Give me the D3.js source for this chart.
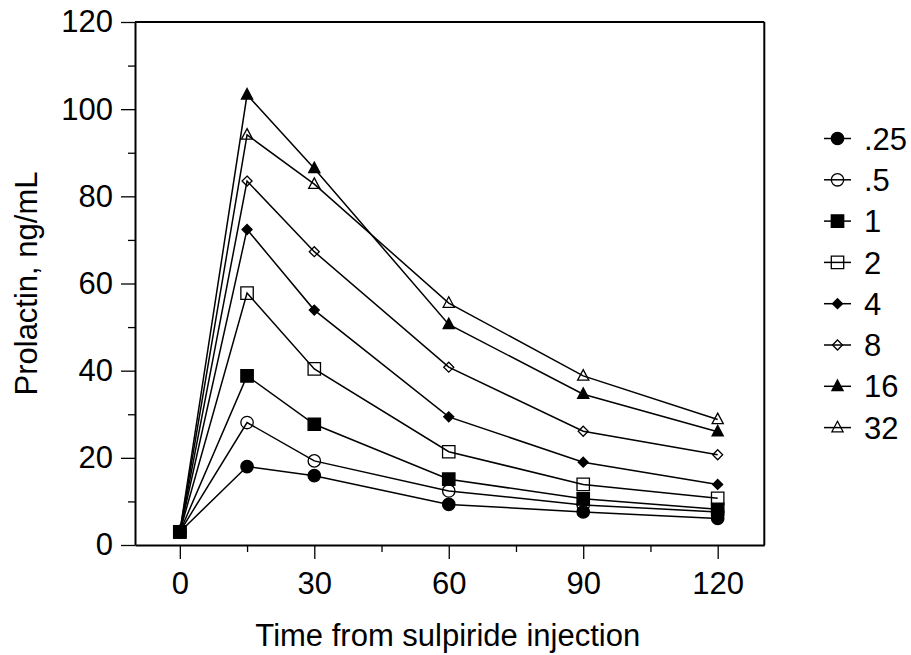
<!DOCTYPE html>
<html>
<head>
<meta charset="utf-8">
<script src="https://cdn.jsdelivr.net/npm/d3@7"></script>
<style>
  html, body { margin: 0; padding: 0; background: #fff; }
  svg { display: block; }
  text { font-family: Arial, "Liberation Sans", sans-serif; fill: #000; }
</style>
</head>
<body>
<svg id="chart" width="911" height="655"></svg>
<script>
// ---- data ----
const times = [0, 15, 30, 60, 90, 120];
const doses = [".25", ".5", "1", "2", "4", "8", "16", "32"];
const s025 = [3, 18.0, 15.9, 9.3, 7.6, 6.1];
const s05  = [3, 28.1, 19.3, 12.4, 9.2, 7.6];
const s1   = [3, 38.8, 27.7, 15.1, 10.6, 8.2];
const s2   = [3, 57.8, 40.4, 21.4, 13.9, 10.7];
const s4   = [3, 72.4, 53.9, 29.4, 19.0, 13.9];
const s8   = [3, 83.5, 67.3, 40.8, 26.1, 20.7];
const s16  = [3, 103.3, 86.4, 50.6, 34.6, 26.0];
const s32  = [3, 94.1, 82.8, 55.5, 38.8, 28.8];
const seriesValues = [s025, s05, s1, s2, s4, s8, s16, s32];
const markerTypes = ["circle", "circle", "square", "square", "diamond", "diamond", "triangle", "triangle"];
const markerFilled = [true, false, true, false, true, false, true, false];
const xMajorTicks = [0, 30, 60, 90, 120];
const xMinorTicks = [15, 45, 75, 105];
const yMajorTicks = [0, 20, 40, 60, 80, 100, 120];
const yMinorTicks = [10, 30, 50, 70, 90, 110];
const xTitle = "Time from sulpiride injection";
const yTitle = "Prolactin, ng/mL";

// ---- layout ----
const svg = d3.select("#chart");
const pL = 135, pR = 764.3, pT = 22, pB = 545;
const x = d3.scaleLinear().domain([-10, 130.4]).range([pL, pR]);
const y = d3.scaleLinear().domain([0, 120]).range([pB, pT]);
const FONT = 31;
const FAM = "Arial, 'Liberation Sans', sans-serif";

function markerPath(type) {
  const p = d3.path();
  if (type === "circle") {
    p.arc(0, 0, 6.2, 0, 2 * Math.PI);
  } else if (type === "square") {
    const h = 6.2;
    p.rect(-h, -h, 2 * h, 2 * h);
  } else if (type === "diamond") {
    const h = 5;
    p.moveTo(0, -h); p.lineTo(h, 0); p.lineTo(0, h); p.lineTo(-h, 0); p.closePath();
  } else {
    const w = 5.6, hh = 10.5;
    p.moveTo(0, -hh * 0.6); p.lineTo(w, hh * 0.4); p.lineTo(-w, hh * 0.4); p.closePath();
  }
  return p.toString();
}

// frame (top & right)
svg.append("line").attr("x1", pL).attr("x2", pR).attr("y1", pT).attr("y2", pT)
  .attr("stroke", "#000").attr("stroke-width", 2);
svg.append("line").attr("x1", pR).attr("x2", pR).attr("y1", pT).attr("y2", pB)
  .attr("stroke", "#000").attr("stroke-width", 2);

// x axis
const gx = svg.append("g").attr("transform", `translate(0,${pB})`);
gx.call(d3.axisBottom(x).tickValues(xMajorTicks).tickSize(14).tickPadding(13).tickSizeOuter(0))
  .call(g => g.select(".domain").attr("stroke-width", 2))
  .call(g => g.selectAll(".tick line").attr("stroke-width", 1.3))
  .call(g => g.selectAll(".tick text").attr("font-size", FONT).attr("font-family", FAM));
const gxm = svg.append("g").attr("transform", `translate(0,${pB})`);
gxm.call(d3.axisBottom(x).tickValues(xMinorTicks).tickSize(7).tickFormat("").tickSizeOuter(0))
  .call(g => g.select(".domain").remove())
  .call(g => g.selectAll(".tick line").attr("stroke-width", 1.3));

// y axis
const gy = svg.append("g").attr("transform", `translate(${pL},0)`);
gy.call(d3.axisLeft(y).tickValues(yMajorTicks).tickSize(14).tickPadding(8).tickSizeOuter(0))
  .call(g => g.select(".domain").attr("stroke-width", 2))
  .call(g => g.selectAll(".tick line").attr("stroke-width", 1.3))
  .call(g => g.selectAll(".tick text").attr("font-size", FONT).attr("font-family", FAM));
const gym = svg.append("g").attr("transform", `translate(${pL},0)`);
gym.call(d3.axisLeft(y).tickValues(yMinorTicks).tickSize(7).tickFormat("").tickSizeOuter(0))
  .call(g => g.select(".domain").remove())
  .call(g => g.selectAll(".tick line").attr("stroke-width", 1.3));

// axis titles
svg.append("text").attr("x", (x(0) + x(120)) / 2 - 1).attr("y", 646)
  .attr("text-anchor", "middle").attr("font-size", FONT).text(xTitle);
svg.append("text").attr("transform", `translate(37,${(pT + pB) / 2}) rotate(-90)`)
  .attr("text-anchor", "middle").attr("font-size", FONT).text(yTitle);

// series
const line = d3.line().x((d, i) => x(times[i])).y(d => y(d));
const plot = svg.append("g");
seriesValues.forEach((vals) => {
  plot.append("path").datum(vals).attr("d", line)
    .attr("fill", "none").attr("stroke", "#000").attr("stroke-width", 1.5);
});
seriesValues.forEach((vals, si) => {
  plot.selectAll(null).data(vals).enter().append("path")
    .attr("transform", (d, i) => `translate(${x(times[i])},${y(d)})`)
    .attr("d", markerPath(markerTypes[si]))
    .attr("fill", markerFilled[si] ? "#000" : "none")
    .attr("stroke", "#000").attr("stroke-width", 1.3);
});

// legend
const legend = svg.append("g");
const legY0 = 138.5, legDy = 41.3;
doses.forEach((lab, i) => {
  const g = legend.append("g").attr("transform", `translate(0,${legY0 + i * legDy})`);
  g.append("line").attr("x1", 824).attr("x2", 851).attr("y1", 0).attr("y2", 0)
    .attr("stroke", "#000").attr("stroke-width", 1.5);
  g.append("path").attr("transform", "translate(837.5,0)")
    .attr("d", markerPath(markerTypes[i]))
    .attr("fill", markerFilled[i] ? "#000" : "none")
    .attr("stroke", "#000").attr("stroke-width", 1.3);
  g.append("text").attr("x", 864).attr("y", 0).attr("dy", "0.36em")
    .attr("font-size", FONT).text(lab);
});
</script>
</body>
</html>
